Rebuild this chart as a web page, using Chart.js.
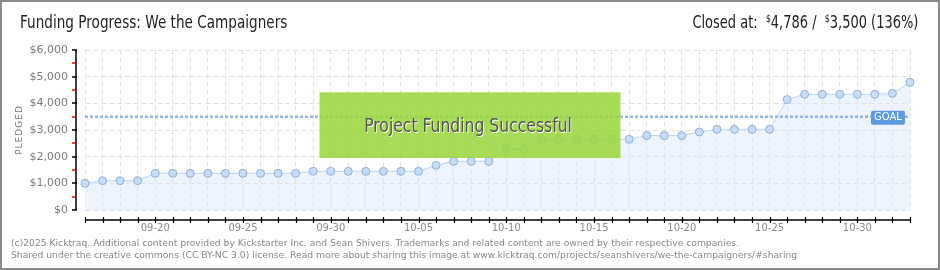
<!DOCTYPE html>
<html>
<head>
<meta charset="utf-8">
<script src="https://cdn.jsdelivr.net/npm/chart.js@4.4.1/dist/chart.umd.min.js"></script>
<style>
  body { margin: 0; background: #fff; }
  #wrap { position: relative; width: 940px; height: 270px; overflow: hidden; }
  #frame { position: absolute; left: 0; top: 0; width: 940px; height: 270px; box-sizing: border-box; border: 2px solid #8a8a8a; pointer-events: none; }
  canvas { position: absolute; left: 0; top: 0; }
  .hd { position: absolute; top: 12px; font-family: "DejaVu Sans", sans-serif; font-size: 17px; color: #222; white-space: nowrap; }
  .hd sup { font-size: 10px; vertical-align: 6px; line-height: 0; }
  #title { left: 20px; transform: scaleX(0.8); transform-origin: left top; }
  #closed { right: 22px; transform: scaleX(0.765); transform-origin: right top; }
  .foot { position: absolute; left: 11px; font-family: "DejaVu Sans", sans-serif; font-size: 9.2px; color: #888; white-space: nowrap; }
</style>
</head>
<body>
<div id="wrap">
  <canvas id="fundingChart" width="940" height="270"></canvas>
  <div class="hd" id="title">Funding Progress: We the Campaigners</div>
  <div class="hd" id="closed">Closed at: &nbsp;<sup>$</sup>4,786 / &nbsp;<sup>$</sup>3,500 (136%)</div>
  <div class="foot" style="top:237px">(c)2025 Kicktraq. Additional content provided by Kickstarter Inc. and Sean Shivers. Trademarks and related content are owned by their respective companies.</div>
  <div class="foot" style="top:249px">Shared under the creative commons (CC BY-NC 3.0) license. Read more about sharing this image at www.kicktraq.com/projects/seanshivers/we-the-campaigners/#sharing</div>
  <div id="frame"></div>
</div>
<script>
// one entry per day, 09-16 .. 11-02
var days = ['09-16','09-17','09-18','09-19','09-20','09-21','09-22','09-23','09-24','09-25',
  '09-26','09-27','09-28','09-29','09-30','10-01','10-02','10-03','10-04','10-05',
  '10-06','10-07','10-08','10-09','10-10','10-11','10-12','10-13','10-14','10-15',
  '10-16','10-17','10-18','10-19','10-20','10-21','10-22','10-23','10-24','10-25',
  '10-26','10-27','10-28','10-29','10-30','10-31','11-01','11-02'];
var pledged = [1000,1100,1100,1100,1375,1375,1375,1375,1375,1375,
  1375,1375,1375,1450,1450,1450,1450,1450,1450,1450,
  1675,1825,1825,1825,2300,2300,2650,2650,2650,2650,
  2650,2650,2790,2790,2790,2925,3025,3025,3025,3025,
  4140,4340,4340,4340,4340,4340,4375,4786];
var goal = 3500;
var yTicks = [0,1000,2000,3000,4000,5000,6000];
var minorTicks = [500,1500,2500,3500,4500,5500];
var bannerText = 'Project Funding Successful';

// detached axes, goal line, success banner
var extras = {
  id: 'extras',
  afterDatasetsDraw: function(chart) {
    var ctx = chart.ctx, x = chart.scales.x, y = chart.scales.y, a = chart.chartArea;
    ctx.save();

    // goal line
    var gy = y.getPixelForValue(goal);
    ctx.strokeStyle = '#92b6e2';
    ctx.lineWidth = 2.5;
    ctx.setLineDash([3, 2]);
    ctx.beginPath();
    ctx.moveTo(a.left, gy);
    ctx.lineTo(a.right, gy);
    ctx.stroke();
    ctx.setLineDash([]);

    // y axis
    var ax = a.left - 9;
    ctx.strokeStyle = '#000';
    ctx.lineWidth = 1.5;
    ctx.beginPath();
    ctx.moveTo(ax, y.getPixelForValue(yTicks[yTicks.length - 1]));
    ctx.lineTo(ax, y.getPixelForValue(yTicks[0]));
    ctx.stroke();
    yTicks.forEach(function(v) {
      var p = Math.round(y.getPixelForValue(v));
      ctx.beginPath(); ctx.moveTo(ax - 4, p); ctx.lineTo(ax + 1, p); ctx.stroke();
    });
    ctx.strokeStyle = '#ff0000';
    minorTicks.forEach(function(v) {
      var p = Math.round(y.getPixelForValue(v));
      ctx.beginPath(); ctx.moveTo(ax - 4, p); ctx.lineTo(ax - 0.5, p); ctx.stroke();
    });

    // x axis
    var ay = a.bottom + 10;
    ctx.strokeStyle = '#000';
    ctx.lineWidth = 1.5;
    ctx.beginPath();
    ctx.moveTo(x.getPixelForValue(0), ay);
    ctx.lineTo(x.getPixelForValue(days.length - 1), ay);
    ctx.stroke();
    ctx.lineWidth = 1.2;
    days.forEach(function(d, i) {
      var p = Math.round(x.getPixelForValue(i)) + 0.5;
      ctx.beginPath(); ctx.moveTo(p, ay - 3); ctx.lineTo(p, ay + 3); ctx.stroke();
    });

    // y axis title
    ctx.save();
    ctx.translate(20, (a.top + a.bottom) / 2);
    ctx.rotate(-Math.PI / 2);
    ctx.fillStyle = '#777';
    ctx.font = '9px "DejaVu Sans"';
    ctx.textAlign = 'center';
    ctx.textBaseline = 'middle';
    ctx.letterSpacing = '1px';
    ctx.fillText('PLEDGED', 0, 0);
    ctx.restore();

    // success banner
    var bw = 301, bh = 66, bx = chart.width / 2 - bw / 2, by = 92;
    ctx.fillStyle = 'rgba(156,214,64,0.88)';
    ctx.fillRect(bx, by, bw, bh);
    ctx.fillStyle = 'rgba(200,240,140,0.7)';
    ctx.fillRect(bx, by, bw, 1);
    ctx.save();
    ctx.translate(bx + bw / 2 - 2, 132);
    ctx.scale(0.78, 1);
    ctx.font = '20px "DejaVu Sans", sans-serif';
    ctx.textAlign = 'center';
    ctx.textBaseline = 'alphabetic';
    ctx.fillStyle = '#fff';
    ctx.fillText(bannerText, 1, 1);
    ctx.fillStyle = '#555';
    ctx.fillText(bannerText, 0, 0);
    ctx.restore();

    // goal tag
    var tx = a.right - 39, tw = 34, th = 14;
    ctx.fillStyle = '#5b9be0';
    ctx.beginPath();
    ctx.roundRect(tx, gy - 6, tw, th, 2);
    ctx.fill();
    ctx.fillStyle = '#fff';
    ctx.font = '10px "DejaVu Sans"';
    ctx.textAlign = 'center';
    ctx.textBaseline = 'middle';
    ctx.fillText('GOAL', tx + tw / 2, gy + 1);
    ctx.restore();
  }
};

new Chart(document.getElementById('fundingChart').getContext('2d'), {
  type: 'line',
  data: {
    labels: days,
    datasets: [{
      data: pledged,
      label: 'Pledged',
      borderColor: '#b9d5f4',
      borderWidth: 1,
      backgroundColor: 'rgba(214,230,250,0.45)',
      fill: 'origin',
      tension: 0,
      pointRadius: 4,
      pointBackgroundColor: '#c6ddf8',
      pointBorderColor: '#8fb0d8',
      pointBorderWidth: 1,
      clip: false
    }]
  },
  options: {
    responsive: false,
    animation: false,
    events: [],
    layout: { padding: { top: 50, right: 30, left: 0, bottom: 0 } },
    plugins: { legend: { display: false }, tooltip: { enabled: false } },
    scales: {
      x: {
        afterFit: function(s) { s.height = 60; },
        grid: { color: '#e2e2e2', drawTicks: false },
        border: { display: false, dash: [5, 3] },
        ticks: {
          autoSkip: false,
          maxRotation: 0,
          padding: 12,
          color: '#8a8a8a',
          font: { family: 'DejaVu Sans', size: 10 },
          callback: function(v, i) { return (i - 4) % 5 === 0 ? days[i] : ''; }
        }
      },
      y: {
        min: 0,
        max: 6000,
        afterFit: function(s) { s.width = 85; },
        grid: { color: '#e2e2e2', drawTicks: false },
        border: { display: false, dash: [5, 3] },
        ticks: {
          stepSize: 1000,
          padding: 17,
          color: '#7a7a7a',
          font: { family: 'DejaVu Sans', size: 11 },
          callback: function(v) { return '$' + v.toLocaleString('en-US'); }
        }
      }
    }
  },
  plugins: [extras]
});
</script>
</body>
</html>
